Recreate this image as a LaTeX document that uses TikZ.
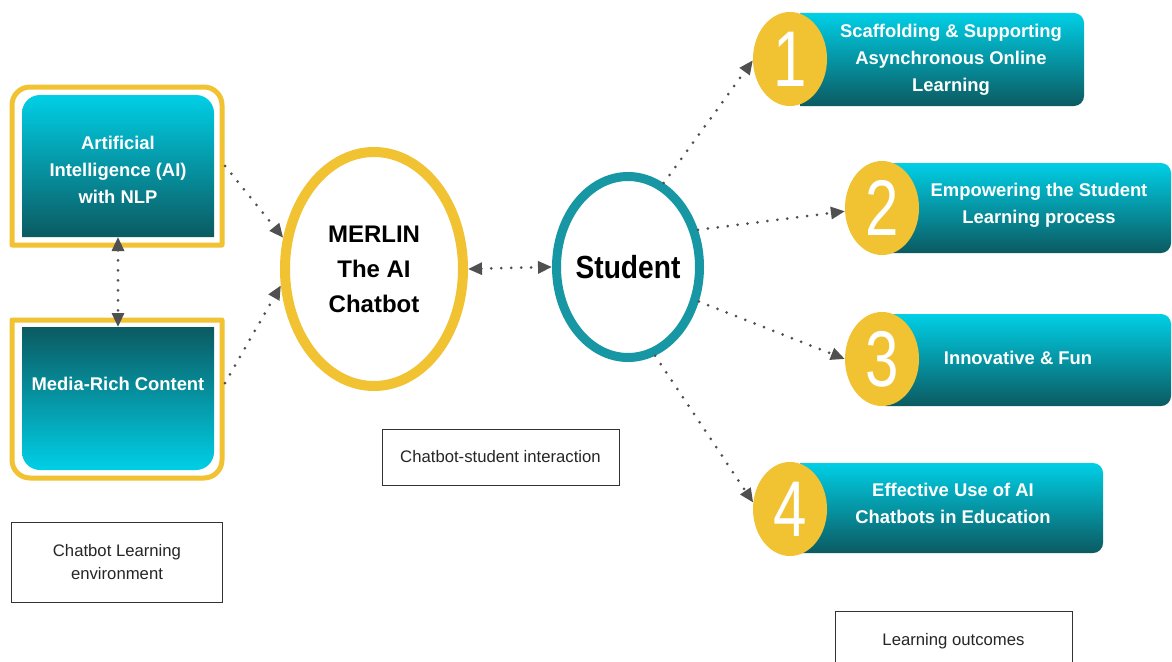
\documentclass[tikz,border=0pt]{standalone}
\usepackage{fontspec}
\setmainfont{Liberation Sans}
\newfontfamily\condfont{Liberation Sans}[FakeStretch=0.88]
\newfontfamily\digitfont{Liberation Sans}[FakeStretch=0.76]
\usetikzlibrary{arrows.meta,shapes.geometric}

\definecolor{gold}{HTML}{F1C232}
\definecolor{tealring}{HTML}{1797A4}
\definecolor{cyanlight}{HTML}{00CFE6}
\definecolor{tealdark}{HTML}{0B5A61}
\definecolor{arrowgray}{HTML}{505050}
\definecolor{labelframe}{HTML}{333333}

% panels with selectively rounded corners: options, x1, y1 (top), x2, y2 (bottom), radius
\newcommand\shapeRoundTop[6]{\path[#1] (#2,#5) -- (#2,{#3+#6}) arc[start angle=180,end angle=90,radius=#6pt] -- ({#4-#6},#3) arc[start angle=90,end angle=0,radius=#6pt] -- (#4,#5) -- cycle;}
\newcommand\shapeRoundBottom[6]{\path[#1] (#2,#3) -- (#2,{#5-#6}) arc[start angle=180,end angle=270,radius=#6pt] -- ({#4-#6},#5) arc[start angle=270,end angle=360,radius=#6pt] -- (#4,#3) -- cycle;}
\newcommand\shapeRoundRight[6]{\path[#1] (#2,#3) -- ({#4-#6},#3) arc[start angle=90,end angle=0,radius=#6pt] -- (#4,{#5-#6}) arc[start angle=0,end angle=-90,radius=#6pt] -- (#2,#5) -- cycle;}

\begin{document}
\begin{tikzpicture}[x=1pt,y=-1pt,
  conn/.style={draw=arrowgray, line width=3pt, line cap=round, dash pattern=on 0pt off 10pt, -{Triangle[length=14pt,width=12pt]}},
  biconn/.style={conn, {Triangle[length=14pt,width=12pt]}-{Triangle[length=14pt,width=12pt]}},
  geom/.style={rectangle, draw=none, inner sep=0pt, outer sep=0pt},
  boxtext/.style={text=white, font=\bfseries\fontsize{18.4}{27}\selectfont, align=center, inner sep=0pt},
  digit/.style={ellipse, fill=gold, inner sep=0pt, minimum width=74pt, minimum height=94pt, text=white, font=\digitfont\fontsize{79}{79}\selectfont},
  caption/.style={draw=labelframe, line width=1pt, align=center, text=black!85, font=\fontsize{16.7}{23}\selectfont},
  teal down/.style={top color=cyanlight, bottom color=tealdark},
  teal up/.style={top color=tealdark, bottom color=cyanlight},
]
\fill[white] (0,0) rectangle (1172,661);
\useasboundingbox (0,0) rectangle (1172,661);

% learning environment panels
\shapeRoundTop{draw=gold, line width=5pt, line join=round}{12}{87}{222}{245}{18}
\shapeRoundTop{teal down}{22}{95}{214}{237}{18}
\shapeRoundBottom{draw=gold, line width=5pt, line join=round}{12}{320}{222}{478}{18}
\shapeRoundBottom{teal up}{22}{327}{214}{470}{18}

\node[geom, minimum width=210pt, minimum height=158pt] (aiframe) at (117,166) {};
\node[geom, minimum width=192pt, minimum height=142pt] (ai) at (118,166) {};
\node[geom, minimum width=210pt, minimum height=158pt] (mediaframe) at (117,399) {};
\node[geom, minimum width=192pt, minimum height=143pt] (media) at (118,398.5) {};

\node[boxtext] (aitext) at (118,170) {Artificial\\Intelligence (AI)\\with NLP};
\node[boxtext] (mediatext) at (118,384) {Media-Rich Content};

% outcome bars
\shapeRoundRight{teal down}{800}{13}{1084}{106}{10}
\shapeRoundRight{teal down}{885}{163}{1171}{253}{10}
\shapeRoundRight{teal down}{885}{314}{1171}{406}{10}
\shapeRoundRight{teal down}{800}{463}{1103}{553}{10}

\node[digit] (num1) at (790,59) {1};
\node[digit] (num2) at (882,208) {2};
\node[digit] (num3) at (882,359) {3};
\node[digit] (num4) at (790,509) {4};

\node[boxtext] (item1) at (951,60) {Scaffolding \& Supporting\\Asynchronous Online\\Learning};
\node[boxtext] (item2) at (1039,205) {Empowering the Student\\Learning process};
\node[boxtext] (item3) at (1018,358) {Innovative \& Fun};
\node[boxtext] (item4) at (953,503) {Effective Use of AI\\Chatbots in Education};

% chatbot and student
\node[ellipse, draw=gold, line width=10pt, minimum width=178pt, minimum height=234pt, inner sep=0pt, outer sep=5pt,
      align=center, font=\bfseries\fontsize{24}{35}\selectfont] (merlin) at (374,269) {MERLIN\\The AI\\Chatbot};
\node[ellipse, draw=tealring, line width=9pt, minimum width=143pt, minimum height=181pt, inner sep=0pt, outer sep=4.5pt,
      label={[font=\condfont\bfseries\fontsize{32}{32}\selectfont]center:Student}] (student) at (628,267) {};

% connectors
\draw[conn] ([xshift=3pt]aiframe.east) -- (merlin.161);
\draw[conn] ([xshift=3pt,yshift=16pt]mediaframe.east) -- (merlin.190);
\draw[biconn] (ai.south) -- (media.north);
\draw[biconn] (merlin.east) -- (student.west);
\draw[conn] (student.67) -- (num1.182);
\draw[conn] (student.28) -- (num2.185);
\draw[conn] (student.334) -- (num3.west);
\draw[conn] (student.287) -- (num4.170);

% captions
\node[caption, minimum width=237pt, minimum height=56pt] (interaction) at (500.5,457) {Chatbot-student interaction};
\node[caption, minimum width=211pt, minimum height=80pt] (environment) at (117,562) {Chatbot Learning\\environment};
\node[caption, minimum width=237pt, minimum height=60pt] (outcomes) at (953.5,641) {Learning outcomes};
\end{tikzpicture}
\end{document}
